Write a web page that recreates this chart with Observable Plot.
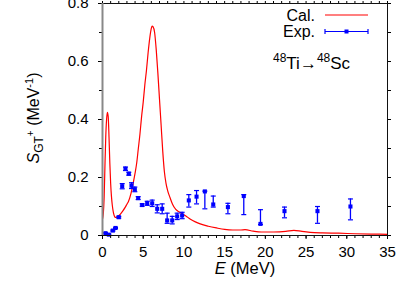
<!DOCTYPE html>
<html><head><meta charset="utf-8">
<script src="https://cdn.jsdelivr.net/npm/d3@7"></script>
<script src="https://cdn.jsdelivr.net/npm/@observablehq/plot@0.6"></script>
<style>
body{margin:0;background:#fff}
svg text{font-family:"Liberation Sans",Arial,sans-serif}
</style>
</head><body><div id="chart"></div>
<script>
// Calculated strength function (red curve)
const calE = [0,0.1,0.2,0.3,0.4,0.5,0.6,0.7,0.8,0.9,1.0,1.1,1.2,1.3,1.4,1.5,1.6,1.8,2.0,2.2,2.5,2.8,3.0,3.2,3.5,3.8,4.0,4.2,4.4,4.6,4.8,5.0,5.2,5.4,5.6,5.8,6.0,6.1,6.2,6.4,6.6,6.8,7.0,7.2,7.4,7.6,7.8,8.0,8.3,8.6,9.0,9.5,9.8,10.2,10.8,11.4,12.0,13.0,14.0,15.0,16.0,17.0,17.5,18.5,19.5,21.0,22.5,23.5,24.5,25.5,27,29,31,33,35];
const calS = [0.057,0.075,0.13,0.24,0.34,0.40,0.425,0.41,0.34,0.25,0.18,0.135,0.105,0.085,0.072,0.065,0.062,0.063,0.068,0.074,0.085,0.098,0.108,0.118,0.145,0.185,0.215,0.25,0.30,0.35,0.41,0.46,0.52,0.57,0.63,0.68,0.715,0.722,0.72,0.70,0.64,0.56,0.47,0.38,0.29,0.22,0.18,0.155,0.13,0.108,0.09,0.08,0.075,0.068,0.056,0.047,0.04,0.032,0.026,0.021,0.019,0.019,0.02,0.015,0.012,0.012,0.014,0.018,0.014,0.011,0.009,0.008,0.006,0.005,0.004];
// Experimental points with error bars (blue)
const expE  = [0.37,0.78,1.27,1.6,2.0,2.42,2.82,3.23,3.56,3.97,4.38,4.87,5.49,6.1,6.72,7.33,7.94,8.56,9.17,9.78,10.6,11.55,12.57,13.6,15.4,17.35,19.4,22.35,26.4,30.45];
const expS  = [0.008,0.003,0.017,0.026,0.063,0.17,0.23,0.213,0.172,0.159,0.129,0.105,0.111,0.111,0.092,0.092,0.052,0.052,0.066,0.069,0.121,0.134,0.152,0.107,0.098,0.136,0.04,0.084,0.084,0.1];
const expLo = [0.006,0.001,0.015,0.024,0.060,0.161,0.224,0.208,0.162,0.151,0.124,0.101,0.104,0.100,0.078,0.075,0.042,0.040,0.055,0.058,0.098,0.109,0.092,0.098,0.075,0.072,0.038,0.061,0.042,0.054];
const expHi = [0.010,0.005,0.019,0.028,0.066,0.179,0.236,0.218,0.182,0.167,0.134,0.109,0.118,0.122,0.106,0.109,0.077,0.066,0.077,0.080,0.141,0.155,0.153,0.136,0.111,0.141,0.089,0.098,0.100,0.126];

const xTicks = [0,5,10,15,20,25,30,35];
const xTickLabels = ["0","5","10","15","20","25","30","35"];
const xMinor = d3.range(0,36,1);
const yTicks = [0,0.2,0.4,0.6,0.8];
const yTickLabels = ["0","0.2","0.4","0.6","0.8"];
const yMinor = [0,0.1,0.2,0.3,0.4,0.5,0.6,0.7,0.8];

const cal = calE.map((e,i)=>({E:e,S:calS[i]}));
const exp = expE.map((e,i)=>({E:e,S:expS[i],lo:expLo[i],hi:expHi[i]}));

const hbar = {draw(ctx){ctx.moveTo(-2.5,0);ctx.lineTo(2.5,0);}};

const chart = Plot.plot({
  width:415, height:291,
  marginLeft:102, marginRight:28, marginTop:3, marginBottom:56,
  style:{fontFamily:'"Liberation Sans",Arial,sans-serif', fontSize:"15px", background:"white", color:"#000"},
  x:{domain:[0,35]},
  y:{domain:[0,0.8]},
  marks:[
    Plot.line(cal,{x:"E",y:"S",stroke:"#ff0000",strokeWidth:1.2,curve:"monotone-x"}),
    Plot.ruleX(exp,{x:"E",y1:"lo",y2:"hi",stroke:"#0000ff",strokeWidth:1.3}),
    Plot.dot(exp,{x:"E",y:"lo",symbol:hbar,stroke:"#0000ff",strokeWidth:1.2,r:3}),
    Plot.dot(exp,{x:"E",y:"hi",symbol:hbar,stroke:"#0000ff",strokeWidth:1.2,r:3}),
    Plot.dot(exp,{x:"E",y:"S",symbol:"square",fill:"#0000ff",r:2.3}),
    Plot.axisX(xMinor,{anchor:"bottom",tickSize:3,text:null,label:null,stroke:"#000"}),
    Plot.axisX(xMinor,{anchor:"top",tickSize:3,text:null,label:null,stroke:"#000"}),
    Plot.axisX(xTicks,{anchor:"bottom",tickSize:4,tickPadding:7,tickFormat:(d,i)=>xTickLabels[i],fontSize:15,label:null}),
    Plot.axisY(yMinor,{anchor:"left",tickSize:3,text:null,label:null,stroke:"#000"}),
    Plot.axisY(yMinor,{anchor:"right",tickSize:3,text:null,label:null,stroke:"#000"}),
    Plot.axisY(yTicks,{anchor:"left",tickSize:4,tickPadding:10,tickFormat:(d,i)=>yTickLabels[i],fontSize:15,label:null}),
    Plot.frame({stroke:"#111",strokeWidth:1}),
    Plot.ruleX([0],{stroke:"#888",strokeWidth:2})
  ]
});
document.getElementById("chart").appendChild(chart);

const svg = d3.select(chart);
const g = svg.append("g").attr("font-size",16).attr("fill","#000").attr("text-anchor","start");
// y label
const yl = g.append("text").attr("transform","translate(39,118) rotate(-90)").attr("text-anchor","middle");
yl.append("tspan").attr("font-style","italic").text("S");
yl.append("tspan").attr("dy",4).attr("font-size",12).text("GT");
yl.append("tspan").attr("dy",-9).attr("font-size",10).text("+");
yl.append("tspan").attr("dy",5).text(" (MeV");
yl.append("tspan").attr("dy",-6).attr("font-size",11).text("-1");
yl.append("tspan").attr("dy",6).text(")");
// x label
const xl = g.append("text").attr("x",245).attr("y",274).attr("text-anchor","middle").attr("font-size",16.5);
xl.append("tspan").attr("font-style","italic").text("E");
xl.append("tspan").text(" (MeV)");
// legend
g.append("text").attr("x",315).attr("y",20.5).attr("text-anchor","end").text("Cal.");
g.append("line").attr("x1",325).attr("x2",368).attr("y1",15).attr("y2",15).attr("stroke","#ff0000").attr("stroke-width",1.2);
g.append("text").attr("x",315).attr("y",37).attr("text-anchor","end").text("Exp.");
g.append("line").attr("x1",325).attr("x2",368).attr("y1",31.5).attr("y2",31.5).attr("stroke","#0000ff").attr("stroke-width",1.2);
g.append("line").attr("x1",325).attr("x2",325).attr("y1",29).attr("y2",34).attr("stroke","#0000ff").attr("stroke-width",1.2);
g.append("line").attr("x1",368).attr("x2",368).attr("y1",29).attr("y2",34).attr("stroke","#0000ff").attr("stroke-width",1.2);
g.append("rect").attr("x",344.5).attr("y",29.5).attr("width",4).attr("height",4).attr("fill","#0000ff");
// reaction annotation
const an = g.append("text").attr("x",273).attr("y",69).attr("text-anchor","start").attr("font-size",17);
an.append("tspan").attr("font-size",12).attr("dy",-7).text("48");
an.append("tspan").attr("dy",7).text("Ti\u2192");
an.append("tspan").attr("font-size",12).attr("dy",-7).text("48");
an.append("tspan").attr("dy",7).text("Sc");
</script>
</body></html>
